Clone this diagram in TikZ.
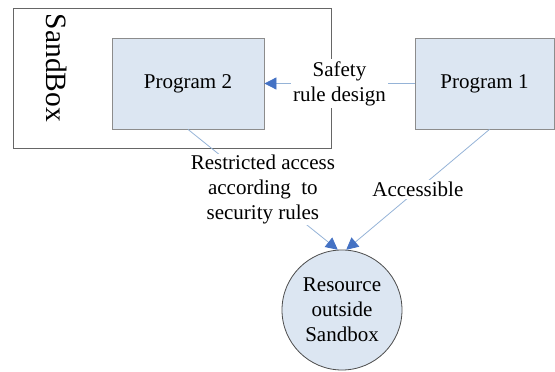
\documentclass[tikz,border=0pt]{standalone}
\usepackage{fontspec}
\setmainfont{Liberation Serif}
\usetikzlibrary{arrows.meta,calc}
\definecolor{boxfill}{HTML}{DCE6F2}
\definecolor{boxline}{HTML}{8C8C8C}
\definecolor{linkline}{HTML}{95B3D7}
\definecolor{tipblue}{HTML}{4472C4}
\tikzset{
  prog/.style={draw=boxline, line width=0.8pt, fill=boxfill, minimum height=91pt,
    inner sep=0pt, font=\fontsize{21}{25}\selectfont},
  link/.style={draw=linkline, line width=0.8pt},
  linkarrow/.style={link, -{Triangle[length=12pt,width=12pt,fill=tipblue,color=tipblue]}},
  tag/.style={fill=white, inner sep=2pt, align=center, font=\fontsize{21}{25}\selectfont}
}
\begin{document}
\begin{tikzpicture}[x=1pt,y=-1pt]
  \useasboundingbox (0,0) rectangle (555,372);
  \clip (0,0) rectangle (555,372);
  % sandbox frame and its vertical title
  \node (sandbox) [draw=black!60, line width=0.8pt, minimum width=318pt, minimum height=140pt, inner sep=0pt] at (172,78) {};
  \node (sbtitle) [rotate=-90, font=\fontsize{29.5}{30}\selectfont, inner sep=0pt] at (57,68) {SandBox};
  % programs
  \node (p2) [prog, minimum width=152pt] at (188,83.5) {Program 2};
  \node (p1) [prog, minimum width=139pt] at (484.5,83.5) {Program 1};
  % outside resource
  \node (res) [circle, draw=black!70, line width=0.8pt, fill=boxfill, minimum size=120pt, inner sep=0pt,
    align=center, font=\fontsize{21}{25}\selectfont] at (342,310) {Resource\\outside\\Sandbox};
  % connectors
  \draw[linkarrow] (p1.west) -- node[tag] {Safety\\rule design} (p2.east);
  \draw[linkarrow] (p2.south) -- node[tag, inner sep=1pt] {Restricted access\\according\ \ to\\security rules} (res.94);
  \draw[linkarrow] ($(p1.south)+(5,0)$) -- node[tag] {Accessible} (res.86);
\end{tikzpicture}
\end{document}
